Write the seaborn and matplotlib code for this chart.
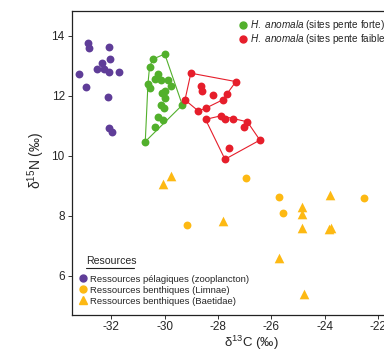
import numpy as np
import pandas as pd
import matplotlib
matplotlib.use("Agg")
import matplotlib.pyplot as plt
from matplotlib.lines import Line2D
import seaborn as sns

# ---- data ----
pel_x = [-33.22, -32.96, -32.88, -32.84, -32.54, -32.36, -32.28, -32.09, -32.06, -32.09, -31.72, -32.13, -32.09, -31.98]
pel_y = [12.73, 12.30, 13.77, 13.60, 12.90, 13.10, 12.90, 13.63, 13.23, 12.80, 12.80, 11.97, 10.93, 10.80]

lim_x = [-26.94, -25.73, -22.53, -25.56, -29.16]
lim_y = [9.28, 8.64, 8.60, 8.11, 7.70]

bae_x = [-29.77, -30.06, -27.83, -23.81, -24.86, -24.86, -24.86, -23.84, -23.76, -25.71, -24.79]
bae_y = [9.33, 9.07, 7.82, 8.69, 8.31, 8.07, 7.61, 7.57, 7.60, 6.60, 5.39]

forte_x = [-30.00, -30.44, -30.57, -30.26, -30.38, -30.13, -29.88, -30.63, -30.57, -29.76,
           -30.00, -30.11, -30.00, -30.15, -30.03, -29.34, -30.26, -30.07, -30.36, -30.73]
forte_y = [13.40, 13.23, 12.97, 12.72, 12.56, 12.53, 12.53, 12.39, 12.28, 12.34,
           12.17, 12.09, 11.92, 11.70, 11.61, 11.70, 11.31, 11.20, 10.98, 10.48]
forte_hull = [19, 7, 2, 1, 0, 15, 19]

faible_x = [-29.02, -27.33, -28.64, -28.59, -28.18, -27.68, -27.83, -29.24, -28.47, -28.74,
            -28.47, -27.89, -27.74, -27.45, -26.90, -27.03, -26.43, -27.58, -27.74]
faible_y = [12.76, 12.48, 12.33, 12.18, 12.03, 12.07, 11.87, 11.87, 11.59, 11.50,
            11.22, 11.34, 11.22, 11.22, 11.14, 10.96, 10.53, 10.26, 9.89]
faible_hull_a = [0, 1, 6, 8, 9, 7, 0]
faible_hull_b = [10, 11, 14, 16, 18, 10]

xticks = [-32, -30, -28, -26, -24, -22]
yticks = [6, 8, 10, 12, 14]

groups = ["pel", "lim", "bae", "forte", "faible"]
labels = {
    "pel": "Ressources pélagiques (zooplancton)",
    "lim": "Ressources benthiques (Limnae)",
    "bae": "Ressources benthiques (Baetidae)",
    "forte": r"$\it{H.\ anomala}$ (sites pente forte)",
    "faible": r"$\it{H.\ anomala}$ (sites pente faible)",
}
colors = {"pel": "#5f3d98", "lim": "#fdb913", "bae": "#fdb913",
          "forte": "#52b02c", "faible": "#e61e2b"}
markers = {"pel": "o", "lim": "o", "bae": "^", "forte": "o", "faible": "o"}

df = pd.concat([
    pd.DataFrame({"x": pel_x, "y": pel_y, "g": "pel"}),
    pd.DataFrame({"x": lim_x, "y": lim_y, "g": "lim"}),
    pd.DataFrame({"x": bae_x, "y": bae_y, "g": "bae"}),
    pd.DataFrame({"x": forte_x, "y": forte_y, "g": "forte"}),
    pd.DataFrame({"x": faible_x, "y": faible_y, "g": "faible"}),
], ignore_index=True)

sns.set_style("ticks")
plt.rcParams["font.family"] = ["Liberation Sans", "DejaVu Sans"]
plt.rcParams["mathtext.fontset"] = "custom"
plt.rcParams["mathtext.rm"] = "Liberation Sans"
plt.rcParams["mathtext.it"] = "Liberation Sans:italic"

fig = plt.figure(figsize=(3.84, 3.52), dpi=100)
ax = fig.add_axes([71.7 / 384, 37 / 352, (391.3 - 71.7) / 384, 304 / 352])

# hulls
def hull(xs, ys, idx, color):
    ax.plot([xs[i] for i in idx], [ys[i] for i in idx], color=color, lw=0.8, zorder=1)

hull(forte_x, forte_y, forte_hull, colors["forte"])
hull(faible_x, faible_y, faible_hull_a, colors["faible"])
hull(faible_x, faible_y, faible_hull_b, colors["faible"])

for g in groups:
    sub = df[df["g"] == g]
    s = 48 if markers[g] == "^" else 32
    sns.scatterplot(data=sub, x="x", y="y", color=colors[g], marker=markers[g],
                    s=s, linewidth=0, ax=ax, zorder=3, legend=False)

ax.set_xlim(-33.49, -21.5)
ax.set_ylim(4.7, 14.833)
ax.set_xticks(xticks)
ax.set_yticks(yticks)
ax.set_xticklabels([f"{t}" for t in xticks])
ax.tick_params(labelsize=8.5, length=3, width=0.7, pad=2, color="#333333")
ax.tick_params(axis="x", pad=1.5)
for sp in ax.spines.values():
    sp.set_linewidth(0.9)
    sp.set_color("#222222")

ax.set_xlabel(r"δ$^{13}$C (‰)", fontsize=9.5)
ax.set_ylabel(r"δ$^{15}$N (‰)", fontsize=10)
ax.xaxis.set_label_coords(0.561, -0.063)
ax.yaxis.set_label_coords(-0.077, 0.51)

# top legend
h_top = [Line2D([], [], marker="o", ls="none", color=colors[g], markersize=5, label=labels[g])
         for g in ["forte", "faible"]]
leg1 = ax.legend(handles=h_top, loc="upper left", bbox_to_anchor=(234 / 384, 1 - 13 / 352),
                 bbox_transform=fig.transFigure, frameon=False, fontsize=7.2,
                 handlelength=0.8, handletextpad=0.35, labelspacing=0.05, borderpad=0.0)
ax.add_artist(leg1)

# bottom legend
h_bot = [Line2D([], [], marker=markers[g], ls="none", color=colors[g],
                markersize=5.5 if markers[g] == "^" else 5, label=labels[g])
         for g in ["pel", "lim", "bae"]]
leg2 = ax.legend(handles=h_bot, loc="upper left", bbox_to_anchor=(74 / 384, 1 - 270 / 352),
                 bbox_transform=fig.transFigure, frameon=False, fontsize=6.8,
                 handlelength=0.8, handletextpad=0.35, labelspacing=0.2, borderpad=0.0)
fig.text(86 / 384, 1 - 261 / 352, "Resources", fontsize=7.6, va="center", ha="left")
fig.add_artist(Line2D([86 / 384, 134 / 384], [1 - 268 / 352, 1 - 268 / 352],
                      color="#222222", lw=0.8, transform=fig.transFigure))

fig.savefig("out.png", dpi=100)
